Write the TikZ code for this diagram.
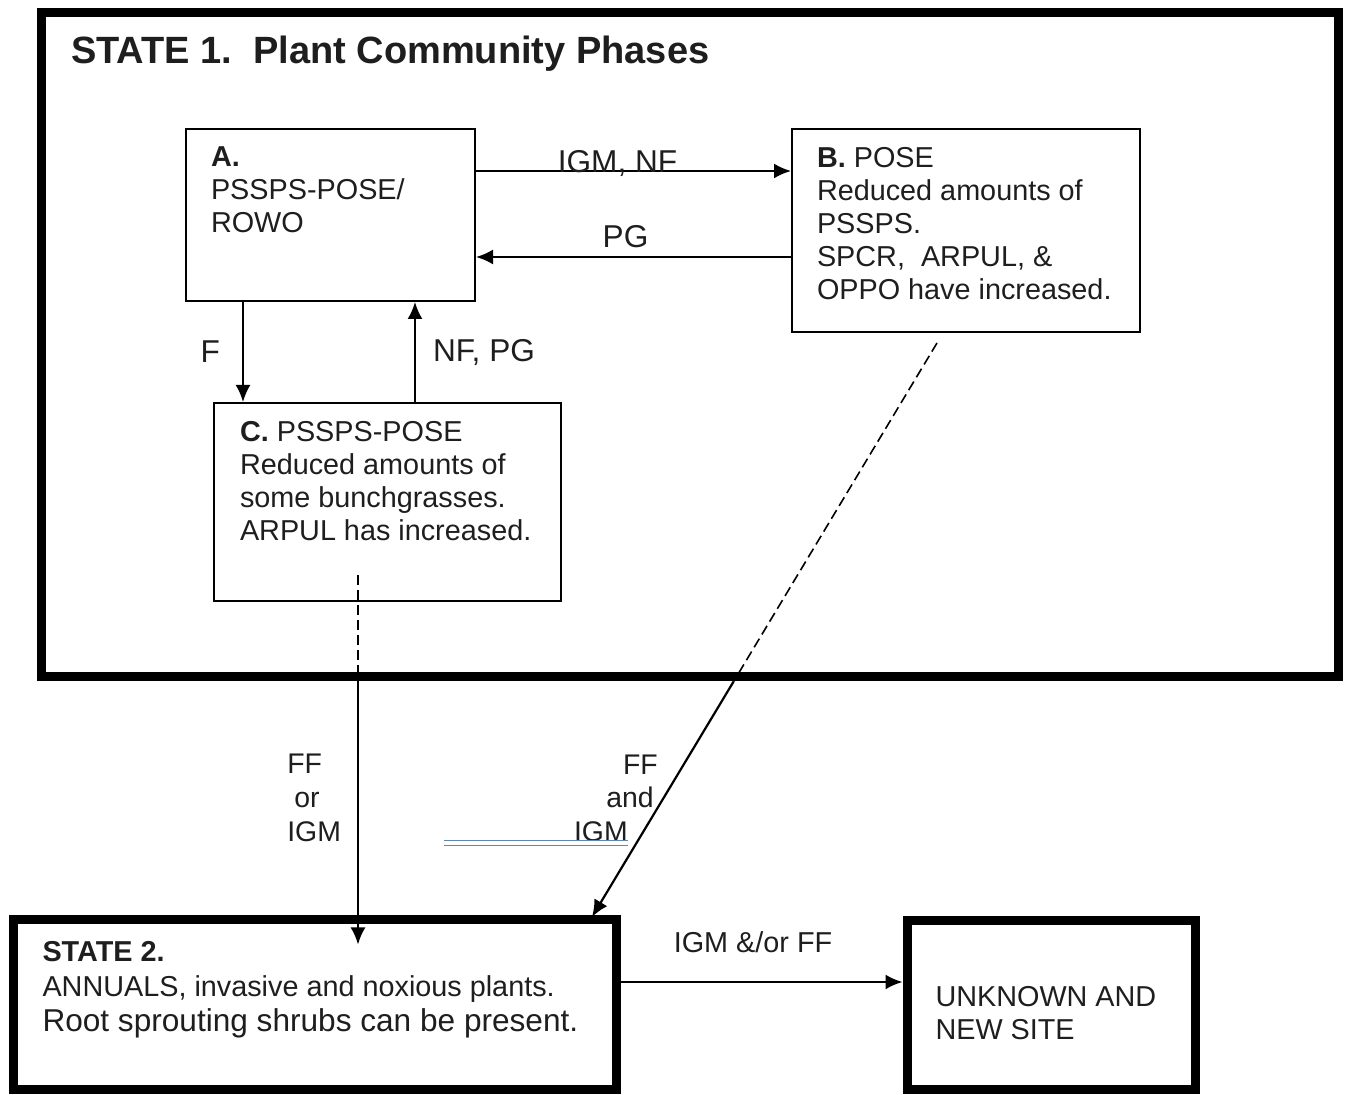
\documentclass[tikz,border=0pt]{standalone}
\usepackage{fontspec}
\setmainfont{Liberation Sans}
\usetikzlibrary{arrows.meta,positioning,calc}
\definecolor{stmInk}{HTML}{1E1E1E}
\definecolor{stmRule}{HTML}{5E86B0}

\begin{document}
\begin{tikzpicture}[x=0.5pt,y=-0.5pt,
    font=\fontsize{14.4}{16.5}\selectfont,text=stmInk,
    phase/.style={draw=black,line width=1pt,anchor=north west,
                  inner xsep=12.5pt,inner ysep=9pt},
    statebox/.style={draw=black,line width=4.5pt,anchor=north west,
                  inner xsep=14.75pt,inner ysep=10.75pt},
    flow/.style={-{Latex[length=8.5pt,width=7.5pt]},line width=1.1pt},
    hint/.style={line width=0.8pt,dash pattern=on 5pt off 2.5pt},
    tag/.style={font=\fontsize{15.8}{18}\selectfont,inner sep=0pt},
    note/.style={inner sep=0pt,font=\fontsize{14.2}{16.8}\selectfont},
    rulemark/.style={draw=stmRule,line width=0.8pt,double=white,double distance=1.6pt}]
  \useasboundingbox (0,0) rectangle (1346,1095);
  % state frames
  \node[statebox,minimum width=648.5pt,minimum height=332pt,
        inner xsep=15pt,inner ysep=11.5pt] (state1) at (36.5,8.5)
    {\parbox[t][309pt][t]{618.5pt}{\fontsize{19}{22}\selectfont\bfseries
     STATE 1.\ \ Plant Community Phases}};
  \node[statebox,minimum width=301.5pt,minimum height=85pt] (state2) at (8.5,915.5)
    {\parbox[t][63.5pt][t]{272pt}{\raggedright\fontsize{14.4}{17.5}\selectfont
     \textbf{STATE 2.}\\
     ANNUALS, invasive and noxious plants.\\
     {\fontsize{15.8}{17.5}\selectfont Root sprouting shrubs can be present.}}};
  \node[statebox,minimum width=144pt,minimum height=84.5pt,inner xsep=14.25pt,
        inner ysep=32.5pt] (unk) at (902.5,916.5)
    {\parbox[t][19.5pt][t]{115.5pt}{\raggedright UNKNOWN AND\\NEW SITE}};
  % community phases
  \node[phase,minimum width=144.5pt,minimum height=86pt] (a) at (185,128)
    {\parbox[t][68pt][t]{119.5pt}{\raggedright
     \textbf{A.}\\PSSPS-POSE/\\ROWO}};
  \node[phase,minimum width=174pt,minimum height=101.5pt] (b) at (791,128)
    {\parbox[t][83.5pt][t]{149pt}{\raggedright
     \textbf{B.} POSE\\Reduced amounts of\\PSSPS.\\SPCR,\ \ ARPUL, \&\\OPPO have increased.}};
  \node[phase,minimum width=173.5pt,minimum height=99pt,inner xsep=13pt] (c) at (213,402)
    {\parbox[t][81pt][t]{147.5pt}{\raggedright
     \textbf{C.} PSSPS-POSE\\Reduced amounts of\\some bunchgrasses.\\ARPUL has increased.}};
  % pathways
  \coordinate (ab) at ($(a.north east)+(0,43)$);
  \coordinate (ba) at ($(b.north west)+(0,129)$);
  \coordinate (ac) at ($(a.south west)+(58,0)$);
  \coordinate (ca) at ($(c.north west)+(202,0)$);
  \coordinate (cdash) at (358,575);
  \coordinate (bdash) at (937,343);
  \coordinate (dtip) at (592,917);
  \coordinate (s2in) at ($(state2.north -| cdash)+(0,29)$);
  \coordinate (su) at ($(state2.east)+(0,-23)$);
  \coordinate (bcross) at (intersection of bdash--dtip and state1.south west--state1.south east);
  \coordinate (ul1) at (444,843);
  \coordinate (ul2) at (628,843);
  \draw[flow] (ab) -- (ab -| b.west) node[tag,midway,xshift=-8pt,yshift=4pt] {IGM, NF};
  \draw[flow] (ba) -- (ba -| a.east) node[tag,midway,xshift=-4pt,yshift=10pt] {PG};
  \draw[flow] (ac) -- (ac |- c.north) node[tag,midway,left=11pt] {F};
  \draw[flow] (ca) -- (ca |- a.south) node[tag,midway,right=8.5pt] {NF, PG};
  % transitions
  \draw[hint] (cdash) -- (cdash |- state1.south);
  \draw[flow] (cdash |- state1.south) -- (s2in)
    node[note,pos=0.45,left=8pt,yshift=1pt,align=left] {FF\\\rule{3.5pt}{0pt}or\\IGM};
  \draw[hint] (bdash) -- (bcross);
  \draw[flow] (bcross) -- (dtip)
    node[note,pos=0.5,anchor=east,xshift=-2pt,yshift=0.5pt,align=right]
    {FF\\and\rule{2pt}{0pt}\\IGM\rule{15pt}{0pt}};
  \draw[rulemark] (ul1) -- (ul2);
  \draw[flow] (su) -- (su -| unk.west) node[midway,xshift=-4.25pt,yshift=20pt] {IGM \&/or FF};
\end{tikzpicture}
\end{document}
